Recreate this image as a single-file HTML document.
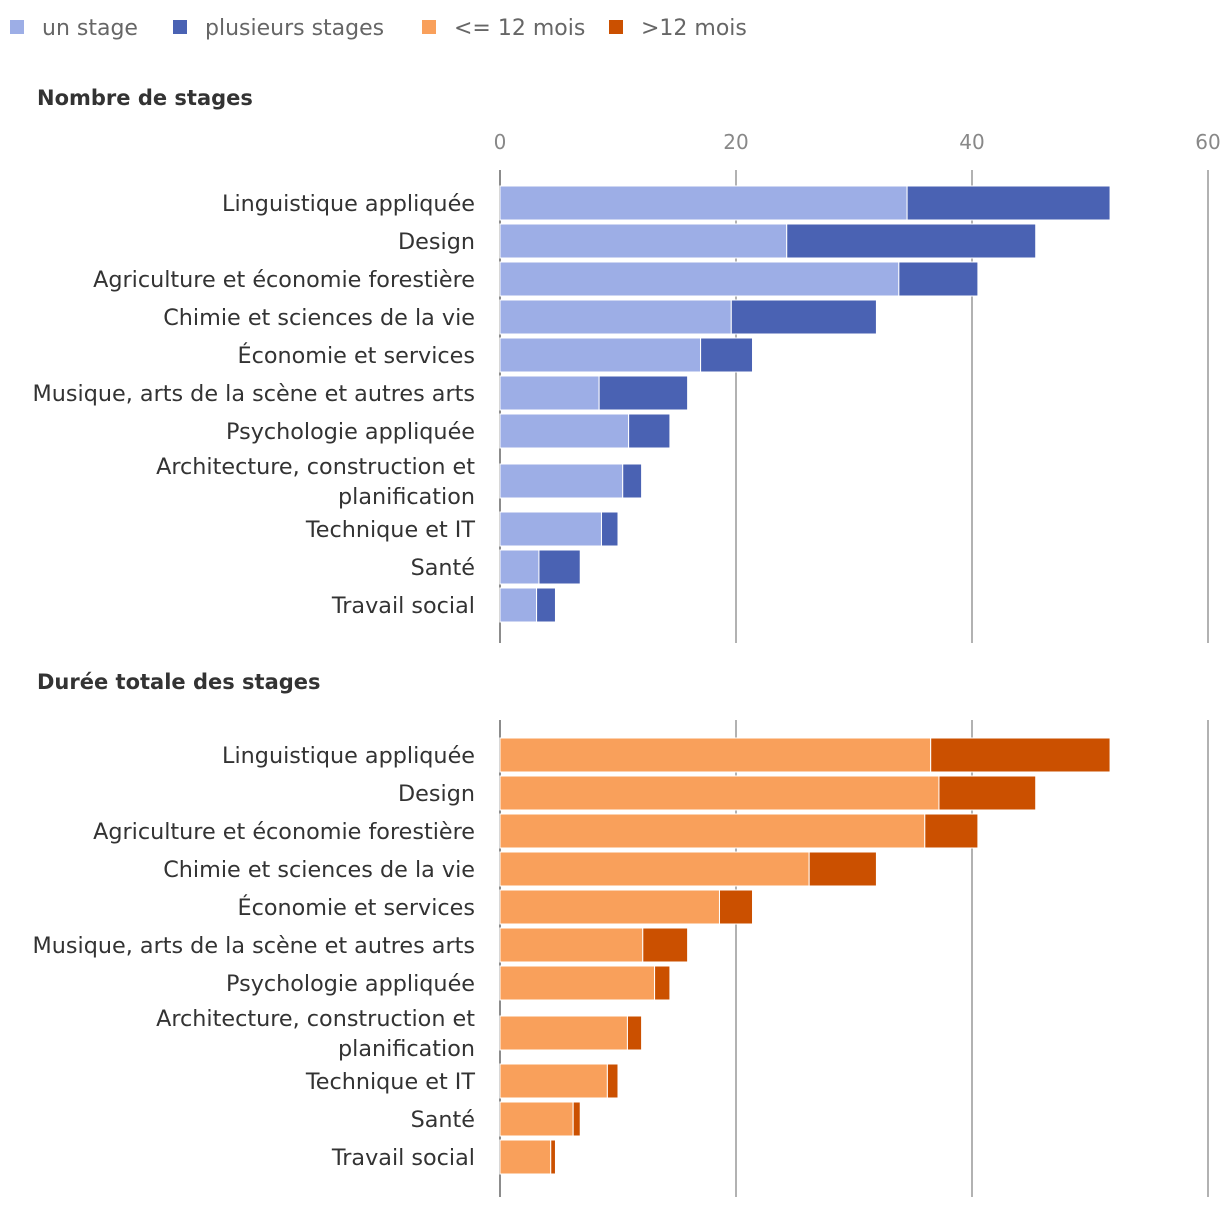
<!DOCTYPE html>
<html><head><meta charset="utf-8"><style>
body{margin:0;background:#fff;width:1220px;height:1208px;overflow:hidden;font-family:"DejaVu Sans",sans-serif}
</style></head><body>
<svg id="c" width="1220" height="1208" xmlns="http://www.w3.org/2000/svg"></svg>
<script>
const categories=["Linguistique appliquée","Design","Agriculture et économie forestière","Chimie et sciences de la vie","Économie et services","Musique, arts de la scène et autres arts","Psychologie appliquée","Architecture, construction et|planification","Technique et IT","Santé","Travail social"];
const unStage=[34.5,24.3,33.8,19.6,17.0,8.4,10.9,10.4,8.6,3.3,3.1];
const plusieursStages=[17.2,21.1,6.7,12.3,4.4,7.5,3.5,1.6,1.4,3.5,1.6];
const moinsDouze=[36.5,37.2,36.0,26.2,18.6,12.1,13.1,10.8,9.1,6.2,4.3];
const plusDouze=[15.2,8.2,4.5,5.7,2.8,3.8,1.3,1.2,0.9,0.6,0.4];
const ticks=[0,20,40,60];
const svg=document.getElementById('c');const NS='http://www.w3.org/2000/svg';
function mk(t,a,p){const e=document.createElementNS(NS,t);for(const k in a)e.setAttribute(k,a[k]);(p||svg).appendChild(e);return e;}
const x=v=>500+v*11.8;
const rowC=[0,38,76,114,152,190,228,278,326,364,402];
const FF='"DejaVu Sans",sans-serif';
const leg=[["un stage","#9daee6",10],["plusieurs stages","#4a62b3",173],["<= 12 mois","#f9a05b",422],[">12 mois","#cb5000",609]];
leg.forEach(l=>{const g=mk('g',{});


mk('rect',{x:l[2],y:20,width:14,height:14,fill:l[1]},g);
const t=mk('text',{x:l[2]+32,y:35,'font-size':22,fill:'#666','font-family':FF},g);t.textContent=l[0];});
function panel(top,title,s1,s2,c1,c2,showTicks,gTop,gBot,name,off){
 const tt=mk('text',{x:37,y:top,'font-size':21,'font-weight':'bold',fill:'#333','font-family':FF});tt.textContent=title;
 
 
 ticks.forEach(v=>{const l=mk('line',{x1:x(v),x2:x(v),y1:gTop,y2:gBot,stroke:v==0?'#666':'#999','stroke-width':1.5});
 
 
 if(showTicks){const t=mk('text',{x:x(v),y:149,'font-size':20,fill:'#888','text-anchor':'middle','font-family':FF});t.textContent=v;
 
 }});
 const base=gTop+off;
 categories.forEach((c,i)=>{const cy=base+rowC[i];
  const parts=c.split('|');
  parts.forEach((p,j)=>{const t=mk('text',{x:475,y:cy+8+(parts.length>1?(j-0.5)*30:0),'font-size':22.3,fill:'#333','text-anchor':'end','font-family':FF});t.textContent=p;
  
  });
  const r1=mk('rect',{x:x(0),y:cy-17,width:x(s1[i])-x(0),height:34,fill:c1,stroke:'#fff','stroke-width':1});
  
  
  const r2=mk('rect',{x:x(s1[i]),y:cy-17,width:x(s1[i]+s2[i])-x(s1[i]),height:34,fill:c2,stroke:'#fff','stroke-width':1});
  
  
 });
}
panel(105,"Nombre de stages",unStage,plusieursStages,"#9daee6","#4a62b3",true,170,643,'count',33);
panel(689,"Durée totale des stages",moinsDouze,plusDouze,"#f9a05b","#cb5000",false,720,1197,'duration',35);
</script>
</body></html>
